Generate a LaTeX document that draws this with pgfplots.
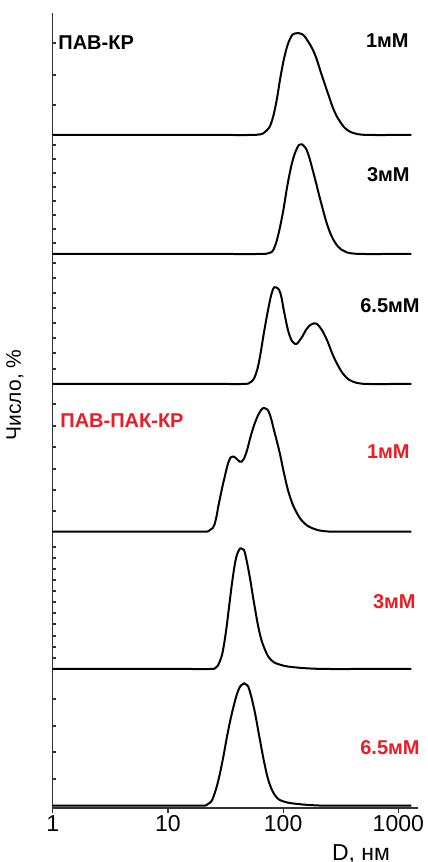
\documentclass[border=0pt]{standalone}
\usepackage{pgfplots}
\pgfplotsset{compat=1.18}
\usepackage{fontspec}
\setmainfont{Liberation Sans}
\definecolor{kred}{RGB}{237,28,36}

\begin{document}
\begin{tikzpicture}
\begin{axis}[
    at={(26.35pt,27pt)}, anchor=south west,
    scale only axis, width=182.5pt, height=397.5pt,
    xmode=log, xmin=1, xmax=1473,
    ymin=0, ymax=795,
    axis x line=bottom, axis y line=left,
    axis line style={-, line width=0.7pt, black!80},
    xtick={1,10,100,1000}, xticklabels={1,10,100,1000},
    xminorticks=false, ytick=\empty,
    tick align=outside, major tick length=2.5pt,
    tick style={line width=0.6pt, black!80},
    xticklabel style={font=\fontsize{11.5}{12}\selectfont, inner sep=1pt},
    /pgf/number format/assume math mode=true,
    curve/.style={black, line width=1pt, smooth, tension=0.7, no markers},
]
% ПАВ-КР 1мМ
\addplot[curve] coordinates {(1,673) (2,673) (4,673) (8,673) (16,673) (32,673) (50,673) (60,673.3) (67,674.5) (72,677.5) (78.7,684.7) (86.9,704.7) (96.1,734.7) (106.2,758) (117.4,771.3) (127,774.5) (135.8,775) (145,774) (158.5,769.5) (187.1,754.7) (213.9,734.7) (244.7,714.7) (279.4,696.3) (319.4,684.7) (360,678) (420,674.5) (500,673.2) (600,673) (900,673) (1297,673)};
% 3мМ
\addplot[curve] coordinates {(1,554) (2,554) (4,554) (8,554) (16,554) (32,554) (60,554) (72,554.3) (78,555.5) (83,559) (89.9,571.3) (99.4,595) (109.9,625) (121.4,648) (134.2,661.3) (142,663.5) (150,662.5) (163.9,655) (187.1,631.3) (213.9,605) (244.7,581.3) (279.4,566.3) (319.4,558.5) (360,555.5) (420,554.3) (500,554) (800,554) (1297,554)};
% 6.5мМ
\addplot[curve] coordinates {(1,424) (2,424) (4,424) (8,424) (16,424) (32,424) (44,424) (50,424.5) (54,427) (58,434) (62.2,448) (68.8,478) (76.0,504.7) (81.3,518) (86.9,520.7) (94.8,514.7) (102.6,494.7) (113.4,473) (127.2,464) (143.4,469.7) (161.7,479.7) (184.9,484.7) (206.9,481.3) (236.6,469.7) (270.4,453) (308.8,439.7) (350,431) (400,426.5) (470,424.5) (560,424) (900,424) (1297,424)};
% ПАВ-ПАК-КР 1мМ
\addplot[curve] coordinates {(1,276.3) (2,276.3) (4,276.3) (8,276.3) (14,276.3) (20,276.3) (22.5,276.8) (24.5,280) (26,288) (27.9,306.3) (30.9,329.7) (34.1,348) (37.3,351.3) (40.4,348) (43.7,346.3) (47.7,354.7) (52.7,373) (58.2,388) (64.4,398) (69.7,399.7) (76.0,394.7) (84.0,376.3) (92.9,356.3) (102.6,333) (113.4,313) (129.7,296.3) (153.1,284.7) (187.1,279) (230,276.8) (290,276.3) (450,276.3) (700,276.3) (1297,276.3)};
% 3мМ
\addplot[curve] coordinates {(1,139) (2,139) (4,139) (8,139) (16,139) (23,139) (25.5,139.5) (27,142) (28.5,148) (29.9,156.3) (31.9,176.3) (34.1,203) (36.5,229.7) (39.0,249.7) (41.5,258) (43.1,259.7) (45,258.5) (46.7,254.7) (51.0,233) (56.3,203) (62.2,176.3) (68.8,159.7) (78.7,148) (96.1,143) (125.4,140.7) (187.1,139.3) (260,139) (400,139) (700,139) (1297,139)};
% 6.5мМ
\addplot[curve] coordinates {(1,2.3) (2,2.3) (4,2.3) (8,2.3) (14,2.3) (19.5,2.3) (21.5,2.8) (23,5) (24.5,9.5) (27.0,24.7) (29.9,48) (33.0,74.7) (36.5,98) (40.4,116.3) (43.5,123) (46.0,124.7) (48.5,123) (51.0,118) (56.3,98) (62.2,71.3) (68.8,44.7) (76.0,24.7) (86.9,11.3) (102.6,6.3) (134.2,4) (187.1,2.7) (260,2.3) (400,2.3) (700,2.3) (1297,2.3)};
\end{axis}

% small inward ticks on the left axis
\foreach \t in {43,75,105,145,159,173,187,201,215,229,243,263,278,293,308,323,338,353,369,404,426,447,469,490,511,547,558,569,580,591,602,613,624,636,647,658,699,726,752,779}
  \draw[line width=0.6pt, black!80] (26.35pt,{(862-\t)*0.5pt}) -- ++(1.6pt,0);

\node[rotate=90, font=\fontsize{10.5}{12}\selectfont] at (7.5pt,233.5pt) {Число, \%};
\node[anchor=base, font=\fontsize{11.5}{12}\selectfont] at (180.5pt,1pt) {D, нм};

\begin{scope}[every node/.style={inner sep=0pt, font=\fontsize{10}{12}\selectfont\bfseries}]
\node[anchor=west] at (29pt,409.5pt) {ПАВ-КР};
\node[anchor=west, text=kred] at (30pt,220.75pt) {ПАВ-ПАК-КР};
\node[anchor=east] at (204.5pt,410.5pt) {1мМ};
\node[anchor=east] at (205pt,343.5pt) {3мМ};
\node[anchor=east] at (210pt,278pt) {6.5мМ};
\node[anchor=east, text=kred] at (205pt,205pt) {1мМ};
\node[anchor=east, text=kred] at (208pt,130pt) {3мМ};
\node[anchor=east, text=kred] at (210pt,57pt) {6.5мМ};
\end{scope}

\pgfresetboundingbox
\useasboundingbox (0,0) rectangle (214pt,431pt);
\end{tikzpicture}
\end{document}
